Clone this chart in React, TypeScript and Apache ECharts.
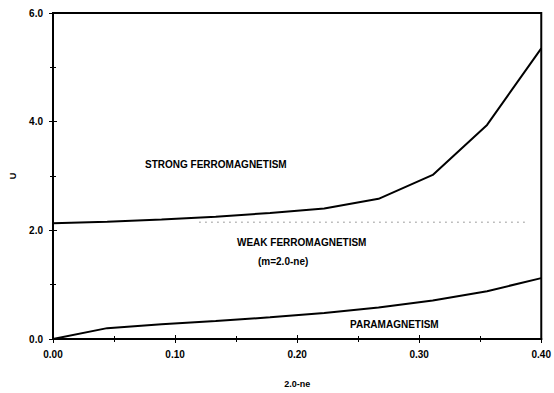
import React, { useEffect, useRef } from "react";
import * as echarts from "echarts";

const xValues = [0, 0.0444, 0.0889, 0.1333, 0.1778, 0.2222, 0.2667, 0.3111, 0.3556, 0.4];
const upperU = [2.13, 2.16, 2.2, 2.25, 2.32, 2.4, 2.58, 3.02, 3.94, 5.35];
const lowerU = [0, 0.2, 0.27, 0.33, 0.4, 0.48, 0.58, 0.71, 0.88, 1.12];
const boundaryX = [0.12, 0.39];
const boundaryU = [2.15, 2.15];
const regionLabels = ["STRONG FERROMAGNETISM", "WEAK FERROMAGNETISM", "(m=2.0-ne)", "PARAMAGNETISM"];

const font = "Liberation Sans, Arial, sans-serif";

export default function App() {
  const ref = useRef<HTMLDivElement>(null);
  useEffect(() => {
    const chart = echarts.init(ref.current!, null, { renderer: "svg" });
    const pairs = (xs: number[], ys: number[]) => xs.map((x, i) => [x, ys[i]]);
    const axisText = { color: "#000", fontFamily: font, fontWeight: "bold" as const, fontSize: 10 };
    chart.setOption({
      animation: false,
      backgroundColor: "#fff",
      grid: { left: 43, right: 9, top: 13, bottom: 48, show: true, borderColor: "#000", borderWidth: 2, backgroundColor: "transparent" },
      xAxis: [
        {
          type: "value", min: 0, max: 0.4, interval: 0.1,
          name: "2.0-ne", nameLocation: "middle", nameGap: 40,
          nameTextStyle: { ...axisText, fontSize: 9 },
          axisLine: { show: true, lineStyle: { color: "#000", width: 2 } },
          axisTick: { show: true, inside: true, length: 4, lineStyle: { color: "#000" } },
          minorTick: { show: true, splitNumber: 2, length: 3, lineStyle: { color: "#000" } },
          axisLabel: { ...axisText, margin: 10, formatter: (v: number) => v.toFixed(2) },
          splitLine: { show: false },
        },
        {
          type: "value", position: "top", min: 0, max: 0.4, interval: 0.1,
          axisLine: { show: true, lineStyle: { color: "#000", width: 2 } },
          axisTick: { show: true, inside: true, length: 4, lineStyle: { color: "#000" } },
          minorTick: { show: true, splitNumber: 2, length: 3, lineStyle: { color: "#000" } },
          axisLabel: { show: false },
          splitLine: { show: false },
        },
      ],
      yAxis: [
        {
          type: "value", min: 0, max: 6, interval: 2,
          name: "U", nameLocation: "middle", nameGap: 36, nameRotate: 90,
          nameTextStyle: { ...axisText, fontSize: 9 },
          axisLine: { show: true, lineStyle: { color: "#000", width: 2 } },
          axisTick: { show: true, inside: true, length: 4, lineStyle: { color: "#000" } },
          minorTick: { show: true, splitNumber: 2, length: 3, lineStyle: { color: "#000" } },
          axisLabel: { ...axisText, margin: 10, formatter: (v: number) => v.toFixed(1) },
          splitLine: { show: false },
        },
        {
          type: "value", position: "right", min: 0, max: 6, interval: 2,
          axisLine: { show: true, lineStyle: { color: "#000", width: 2 } },
          axisTick: { show: true, inside: true, length: 4, lineStyle: { color: "#000" } },
          minorTick: { show: true, splitNumber: 2, length: 3, lineStyle: { color: "#000" } },
          axisLabel: { show: false },
          splitLine: { show: false },
        },
      ],
      series: [
        {
          type: "line", data: pairs(xValues, upperU), showSymbol: false,
          lineStyle: { color: "#000", width: 2 },
        },
        {
          type: "line", data: pairs(xValues, lowerU), showSymbol: false,
          lineStyle: { color: "#000", width: 2 },
        },
        {
          type: "line", data: pairs(boundaryX, boundaryU), showSymbol: false,
          lineStyle: { color: "#444", width: 1, type: [1, 5] },
        },
      ],
      graphic: [
        { type: "text", left: 145, top: 159, style: { text: regionLabels[0], fill: "#000", font: `bold 10px ${font}` } },
        { type: "text", left: 237, top: 237, style: { text: regionLabels[1], fill: "#000", font: `bold 10px ${font}` } },
        { type: "text", left: 258, top: 256, style: { text: regionLabels[2], fill: "#000", font: `bold 10px ${font}` } },
        { type: "text", left: 350, top: 319, style: { text: regionLabels[3], fill: "#000", font: `bold 10px ${font}` } },
      ],
    });
    return () => chart.dispose();
  }, []);
  return <div ref={ref} style={{ width: 554, height: 393, position: "absolute", left: 0, top: 0 }} />;
}
